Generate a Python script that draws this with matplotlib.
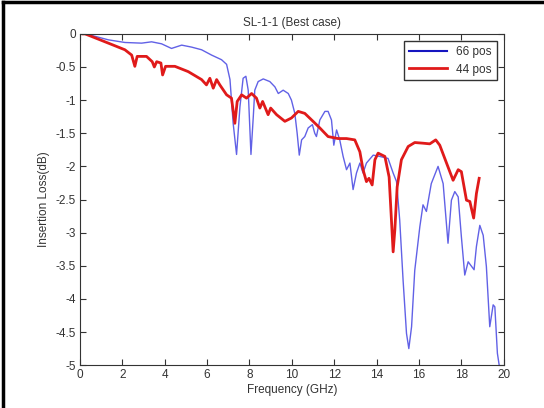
import numpy as np
import matplotlib
matplotlib.use('Agg')
import matplotlib.pyplot as plt
from matplotlib.lines import Line2D

plt.rcParams['axes.unicode_minus'] = False
plt.rcParams['font.family'] = 'Liberation Sans'

# 66 pos (blue)
freq_66 = [0.3, 0.39, 1.34, 2.12, 2.91, 3.38, 3.85, 4.32, 4.8, 5.27, 5.74, 6.21, 6.68,
           6.92, 7.08, 7.23, 7.39, 7.55, 7.7, 7.83, 7.94, 8.07, 8.18, 8.25, 8.41, 8.65,
           8.96, 9.2, 9.36, 9.59, 9.83, 9.98, 10.14, 10.25, 10.35, 10.46, 10.61, 10.77,
           10.97, 11.08, 11.16, 11.32, 11.56, 11.71, 11.87, 11.98, 12.11, 12.26, 12.42,
           12.58, 12.74, 12.89, 13.05, 13.21, 13.36, 13.52, 13.84, 14.15, 14.54, 14.78,
           14.94, 15.09, 15.25, 15.41, 15.52, 15.65, 15.8, 16.04, 16.19, 16.35, 16.58,
           16.9, 17.14, 17.37, 17.53, 17.69, 17.85, 18.0, 18.16, 18.32, 18.6, 18.71,
           18.87, 19.03, 19.18, 19.34, 19.5, 19.58, 19.7, 19.78]
loss_66 = [0.0, -0.01, -0.09, -0.13, -0.14, -0.12, -0.15, -0.22, -0.17, -0.2, -0.24,
           -0.32, -0.39, -0.46, -0.69, -1.35, -1.82, -1.1, -0.67, -0.64, -0.85, -1.82,
           -1.25, -0.85, -0.72, -0.68, -0.72, -0.8, -0.9, -0.85, -0.9, -1.0, -1.2,
           -1.5, -1.83, -1.6, -1.55, -1.42, -1.37, -1.5, -1.55, -1.3, -1.17, -1.17,
           -1.3, -1.68, -1.45, -1.6, -1.85, -2.05, -1.95, -2.35, -2.1, -1.95, -2.1,
           -1.95, -1.83, -1.85, -1.88, -2.1, -2.23, -2.81, -3.72, -4.52, -4.75, -4.42,
           -3.57, -2.91, -2.58, -2.68, -2.26, -2.0, -2.26, -3.16, -2.51, -2.38, -2.46,
           -3.06, -3.64, -3.44, -3.56, -3.21, -2.89, -3.04, -3.51, -4.42, -4.09, -4.12,
           -4.82, -4.99]

# 44 pos (red)
freq_44 = [0.15, 0.24, 1.34, 2.12, 2.44, 2.59, 2.7, 3.14, 3.41, 3.51, 3.62, 3.82, 3.9,
           4.04, 4.48, 5.11, 5.74, 5.97, 6.13, 6.29, 6.45, 6.6, 6.92, 7.15, 7.31, 7.42,
           7.63, 7.86, 8.1, 8.33, 8.49, 8.62, 8.88, 9.0, 9.28, 9.67, 9.98, 10.3, 10.61,
           11.0, 11.32, 11.71, 12.18, 12.58, 12.97, 13.21, 13.36, 13.52, 13.64, 13.79,
           13.92, 14.07, 14.39, 14.59, 14.7, 14.78, 14.86, 14.97, 15.17, 15.49, 15.8,
           16.19, 16.51, 16.79, 16.98, 17.3, 17.61, 17.85, 18.0, 18.24, 18.4, 18.58,
           18.71, 18.84]
loss_44 = [0.0, 0.0, -0.14, -0.24, -0.32, -0.49, -0.34, -0.34, -0.42, -0.5, -0.42,
           -0.44, -0.62, -0.49, -0.49, -0.57, -0.69, -0.77, -0.67, -0.82, -0.69, -0.77,
           -0.92, -0.97, -1.35, -1.02, -0.92, -0.97, -0.9, -0.97, -1.12, -1.02, -1.22,
           -1.12, -1.22, -1.32, -1.27, -1.17, -1.2, -1.32, -1.42, -1.55, -1.58, -1.58,
           -1.6, -1.78, -2.05, -2.23, -2.18, -2.28, -1.9, -1.8, -1.85, -2.16, -2.81,
           -3.29, -2.96, -2.31, -1.9, -1.7, -1.64, -1.65, -1.66, -1.6, -1.68, -1.95,
           -2.21, -2.05, -2.08, -2.51, -2.53, -2.78, -2.41, -2.18]

xticks = np.arange(0, 21, 2)
yticks = np.arange(-5, 0.01, 0.5)
ytick_labels = ['%g' % v for v in yticks]

fig = plt.figure(figsize=(5.44, 4.08), dpi=100)
ax = fig.add_axes([0.147, 0.105, 0.779, 0.812])

ax.plot(freq_66, loss_66, color='#3a3ae0', lw=1.0, alpha=0.8, label='66 pos')
ax.plot(freq_44, loss_44, color='#e01a1a', lw=2.0, label='44 pos')

ax.set_xlim(0, 20)
ax.set_ylim(-5, 0)
ax.set_xticks(xticks)
ax.set_yticks(yticks)
ax.set_yticklabels(ytick_labels)
ax.tick_params(direction='in', top=True, right=True, length=4, labelsize=8.5,
               colors='#333333', pad=3)
for s in ax.spines.values():
    s.set_color('#333333')

ax.set_title('SL-1-1 (Best case)', fontsize=8.5, color='#333333', pad=6)
ax.set_xlabel('Frequency (GHz)', fontsize=8.5, color='#333333', labelpad=2)
ax.set_ylabel('Insertion Loss(dB)', fontsize=8.5, color='#333333', labelpad=4)

leg = ax.legend(loc='upper right', fontsize=8.5, fancybox=False, framealpha=1,
                edgecolor='#333333', handlelength=3.2, borderaxespad=0.6)
leg.get_frame().set_linewidth(1.0)
leg.get_lines()[0].set_color('#1515c0')
leg.get_lines()[0].set_linewidth(1.5)
leg.get_lines()[0].set_alpha(1)
for t in leg.get_texts():
    t.set_color('#333333')

# image frame on top and left edge
fig.add_artist(Line2D([0.006, 0.006], [0, 0.995], transform=fig.transFigure, color='k', lw=2.5))
fig.add_artist(Line2D([0.006, 1], [0.995, 0.995], transform=fig.transFigure, color='k', lw=2.5))

fig.savefig('out.png', dpi=100)
